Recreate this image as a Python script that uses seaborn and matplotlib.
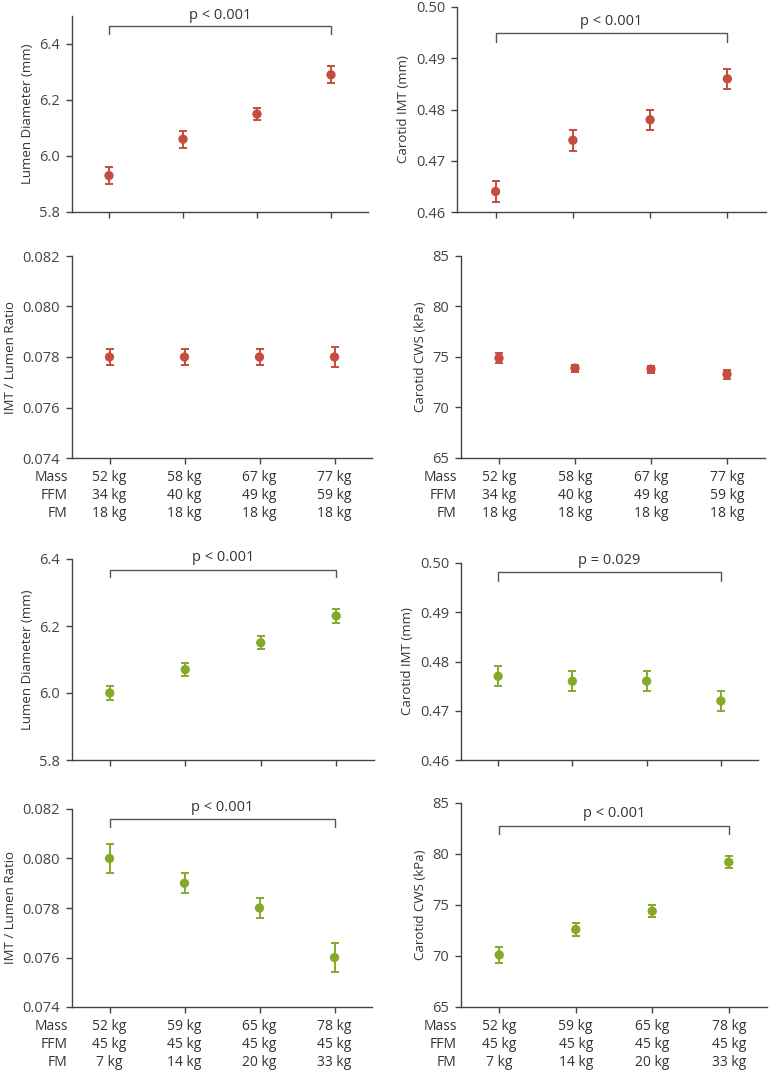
"""
Arterial measures across body-composition groups (two cohorts, four panels each)
"""

import matplotlib
matplotlib.use("Agg")
import matplotlib.pyplot as plt
import seaborn as sns
import numpy as np

sns.set_style("ticks")
plt.rcParams['font.family'] = ['Open Sans', 'DejaVu Sans']
plt.rcParams['text.color'] = '#333333'
plt.rcParams['axes.labelcolor'] = '#333333'
plt.rcParams['xtick.color'] = '#444444'
plt.rcParams['ytick.color'] = '#444444'

RED = '#c44d3e'
GREEN = '#86a92a'

# ---- data -------------------------------------------------------------
groups = [0, 1, 2, 3]
row_names = ['Mass', 'FFM', 'FM']

# cohort 1 (FM fixed)
mass_1 = ['52 kg', '58 kg', '67 kg', '77 kg']
ffm_1 = ['34 kg', '40 kg', '49 kg', '59 kg']
fm_1 = ['18 kg', '18 kg', '18 kg', '18 kg']

lumen_1 = [5.93, 6.06, 6.15, 6.29]
lumen_1_err = [0.03, 0.03, 0.02, 0.03]
imt_1 = [0.464, 0.474, 0.478, 0.486]
imt_1_err = [0.002, 0.002, 0.002, 0.002]
ratio_1 = [0.078, 0.078, 0.078, 0.078]
ratio_1_err = [0.0003, 0.0003, 0.0003, 0.0004]
cws_1 = [74.9, 73.9, 73.8, 73.3]
cws_1_err = [0.45, 0.35, 0.35, 0.45]

# cohort 2 (FFM fixed)
mass_2 = ['52 kg', '59 kg', '65 kg', '78 kg']
ffm_2 = ['45 kg', '45 kg', '45 kg', '45 kg']
fm_2 = ['7 kg', '14 kg', '20 kg', '33 kg']

lumen_2 = [6.00, 6.07, 6.15, 6.23]
lumen_2_err = [0.02, 0.02, 0.02, 0.02]
imt_2 = [0.477, 0.476, 0.476, 0.472]
imt_2_err = [0.002, 0.002, 0.002, 0.002]
ratio_2 = [0.0800, 0.0790, 0.0780, 0.0760]
ratio_2_err = [0.0006, 0.0004, 0.0004, 0.0006]
cws_2 = [70.1, 72.6, 74.4, 79.2]
cws_2_err = [0.8, 0.6, 0.6, 0.6]

W, H = 769, 1070
fig = plt.figure(figsize=(W / 100, H / 100), dpi=100)


def make_ax(left, right, top, bottom):
    """Axes from pixel box (y measured from top)"""
    return fig.add_axes([left / W, 1 - bottom / H, (right - left) / W, (bottom - top) / H])


def panel(ax, vals, errs, color, ylim, yticks, fmt, ylabel, p_text=None,
          bracket=None, xlabels=None):
    ax.errorbar(groups, vals, yerr=errs, fmt='none', ecolor=color,
                elinewidth=1.4, capsize=3, capthick=1.4, zorder=2)
    sns.scatterplot(x=groups, y=vals, color=color, s=45, edgecolor='none',
                    ax=ax, zorder=3)
    ax.set_xlim(-0.5, 3.5)
    ax.set_ylim(*ylim)
    ax.set_yticks(yticks)
    ax.set_yticklabels([fmt.format(t) for t in yticks])
    ax.set_xticks(groups)
    ax.set_ylabel(ylabel, fontsize=9.5, labelpad=4)
    ax.tick_params(axis='both', length=4, width=1, labelsize=10.5, pad=4.5)
    for s in ['left', 'bottom']:
        ax.spines[s].set_color('#444444')
        ax.spines[s].set_linewidth(1)
    sns.despine(ax=ax)

    if xlabels is not None:
        ax.set_xticklabels(['\n'.join(c) for c in zip(*xlabels)],
                           fontsize=10, linespacing=1.26, color='#333333')
        ax.annotate('\n'.join(row_names), xy=(0, 0), xycoords='axes fraction',
                    xytext=(-3, -8.5), textcoords='offset points',
                    ha='right', va='top', multialignment='right',
                    fontsize=10, linespacing=1.26, color='#333333')
    else:
        ax.set_xticklabels([])

    if bracket is not None:
        y_line, y_leg, y_txt = bracket
        ax.plot([0, 0, 3, 3], [y_leg, y_line, y_line, y_leg], color='#555555',
                lw=1, clip_on=False)
        ax.text(1.5, y_txt, p_text, ha='center', va='center', fontsize=10.5,
                clip_on=False)


# cohort 1
ax = make_ax(72, 368, 16, 212)
panel(ax, lumen_1, lumen_1_err, RED, (5.8, 6.5), [5.8, 6.0, 6.2, 6.4], '{:.1f}',
      'Lumen Diameter (mm)', 'p < 0.001', (6.463, 6.435, 6.503))

ax = make_ax(457, 766, 7, 212)
panel(ax, imt_1, imt_1_err, RED, (0.46, 0.50), [0.46, 0.47, 0.48, 0.49, 0.50], '{:.2f}',
      'Carotid IMT (mm)', 'p < 0.001', (0.4949, 0.4931, 0.4972))

ax = make_ax(72, 372, 256, 458)
panel(ax, ratio_1, ratio_1_err, RED, (0.074, 0.082),
      [0.074, 0.076, 0.078, 0.080, 0.082], '{:.3f}',
      'IMT / Lumen Ratio', xlabels=[mass_1, ffm_1, fm_1])

ax = make_ax(461, 765, 256, 458)
panel(ax, cws_1, cws_1_err, RED, (65, 85), [65, 70, 75, 80, 85], '{:.0f}',
      'Carotid CWS (kPa)', xlabels=[mass_1, ffm_1, fm_1])

# cohort 2
ax = make_ax(72, 374, 559, 760)
panel(ax, lumen_2, lumen_2_err, GREEN, (5.8, 6.4), [5.8, 6.0, 6.2, 6.4], '{:.1f}',
      'Lumen Diameter (mm)', 'p < 0.001', (6.368, 6.345, 6.405))

ax = make_ax(461, 758, 563, 760)
panel(ax, imt_2, imt_2_err, GREEN, (0.46, 0.50), [0.46, 0.47, 0.48, 0.49, 0.50], '{:.2f}',
      'Carotid IMT (mm)', 'p = 0.029', (0.4981, 0.4964, 0.5005))

ax = make_ax(72, 372, 809, 1007)
panel(ax, ratio_2, ratio_2_err, GREEN, (0.074, 0.082),
      [0.074, 0.076, 0.078, 0.080, 0.082], '{:.3f}',
      'IMT / Lumen Ratio', 'p < 0.001', (0.08158, 0.08128, 0.08205),
      xlabels=[mass_2, ffm_2, fm_2])

ax = make_ax(461, 767, 803, 1007)
panel(ax, cws_2, cws_2_err, GREEN, (65, 85), [65, 70, 75, 80, 85], '{:.0f}',
      'Carotid CWS (kPa)', 'p < 0.001', (82.74, 81.98, 84.0),
      xlabels=[mass_2, ffm_2, fm_2])

fig.savefig('out.png', dpi=100)
